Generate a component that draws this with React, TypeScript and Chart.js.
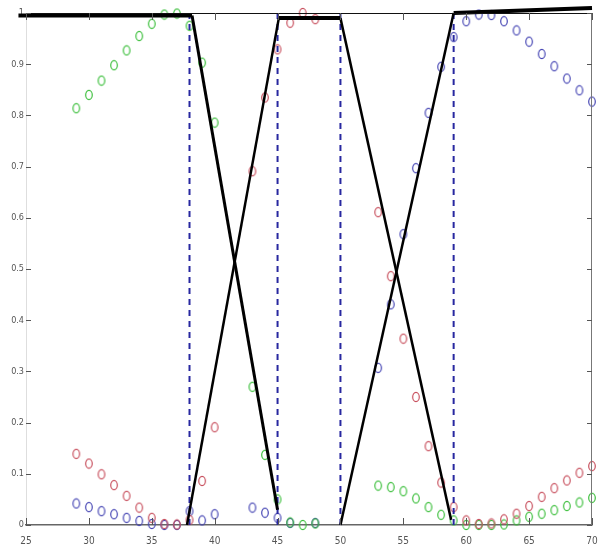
import React, { useEffect, useRef } from "react";
import { Chart, registerables } from "chart.js";

Chart.register(...registerables);

// x positions of the sampled points
const X_VALUES = [
  29, 30, 31, 32, 33, 34, 35, 36, 37, 38, 39, 40,
  43, 44, 45, 46, 47, 48,
  53, 54, 55, 56, 57, 58, 59, 60, 61, 62, 63, 64, 65, 66, 67, 68, 69, 70,
];

const RED_VALUES = [
  0.139, 0.12, 0.099, 0.078, 0.057, 0.034, 0.014, 0.002, 0.001, 0.01, 0.086, 0.191,
  0.691, 0.835, 0.929, 0.981, 1.0, 0.988,
  0.611, 0.486, 0.364, 0.25, 0.154, 0.083, 0.035, 0.009, 0.002, 0.003, 0.011, 0.022, 0.037, 0.055, 0.072, 0.087, 0.102, 0.115,
];

const GREEN_VALUES = [
  0.814, 0.84, 0.868, 0.898, 0.927, 0.955, 0.979, 0.997, 0.999, 0.975, 0.903, 0.786,
  0.27, 0.137, 0.05, 0.005, 0.0, 0.003,
  0.077, 0.074, 0.066, 0.052, 0.035, 0.02, 0.009, 0.0, 0.0, 0.0, 0.001, 0.009, 0.016, 0.022, 0.029, 0.037, 0.044, 0.053,
];

const BLUE_VALUES: (number | null)[] = [
  0.042, 0.035, 0.027, 0.021, 0.014, 0.008, 0.002, 0.0, 0.0, 0.027, 0.009, 0.021,
  0.034, 0.024, 0.014, 0.004, null, 0.004,
  0.307, 0.431, 0.568, 0.697, 0.805, 0.895, 0.953, 0.984, 0.997, 0.996, 0.984, 0.966, 0.944, 0.92, 0.896, 0.872, 0.849, 0.827,
];

// membership function segments (x, y breakpoints)
const SEG_FLAT_LEFT_X = [24.4, 38.2];
const SEG_FLAT_LEFT_Y = [0.995, 0.995];
const SEG_DOWN_1_X = [38.2, 45];
const SEG_DOWN_1_Y = [0.995, 0.03];
const SEG_UP_1_X = [37.8, 45.1];
const SEG_UP_1_Y = [0, 0.99];
const SEG_FLAT_MID_X = [45.1, 50];
const SEG_FLAT_MID_Y = [0.99, 0.99];
const SEG_DOWN_2_X = [50, 58.8];
const SEG_DOWN_2_Y = [0.99, 0.01];
const SEG_UP_2_X = [50, 59];
const SEG_UP_2_Y = [0, 1];
const SEG_FLAT_RIGHT_X = [59, 70];
const SEG_FLAT_RIGHT_Y = [1, 1.01];

// dashed boundaries
const BOUNDARIES = [38, 45, 50, 59];

const X_TICKS = [25, 30, 35, 40, 45, 50, 55, 60, 65, 70];
const Y_TICKS = [0, 0.1, 0.2, 0.3, 0.4, 0.5, 0.6, 0.7, 0.8, 0.9, 1];

const FONT_FAMILY = '"Liberation Sans Narrow", "DejaVu Sans Condensed", "Liberation Sans", sans-serif';

function ring(color: string): HTMLCanvasElement {
  const c = document.createElement("canvas");
  c.width = 10;
  c.height = 12;
  const g = c.getContext("2d")!;
  g.strokeStyle = color;
  g.lineWidth = 1.2;
  g.beginPath();
  g.ellipse(5, 6, 3.3, 4.6, 0, 0, Math.PI * 2);
  g.stroke();
  return c;
}

function pts(xs: number[], ys: (number | null)[]) {
  const out: { x: number; y: number }[] = [];
  xs.forEach((x, i) => {
    const v = ys[i];
    if (v !== null && v !== undefined) out.push({ x, y: v });
  });
  return out;
}

function seg(xs: number[], ys: number[], width: number) {
  return {
    data: xs.map((x, i) => ({ x, y: ys[i] })),
    showLine: true,
    borderColor: "#000",
    backgroundColor: "#000",
    borderWidth: width,
    pointRadius: 0,
    clip: false as any,
    order: 0,
  };
}

const framePlugin = {
  id: "frame",
  afterDraw(chart: any) {
    const { ctx, chartArea } = chart;
    const { left, right, top, bottom } = chartArea;
    const xs = chart.scales.x;
    const ys = chart.scales.y;
    ctx.save();
    ctx.lineWidth = 1;
    ctx.strokeStyle = "#111";
    ctx.beginPath();
    ctx.moveTo(left, top + 0.5);
    ctx.lineTo(right, top + 0.5);
    ctx.stroke();
    ctx.strokeStyle = "#777";
    ctx.beginPath();
    ctx.moveTo(right - 0.5, top);
    ctx.lineTo(right - 0.5, bottom);
    ctx.stroke();
    ctx.strokeStyle = "#555";
    ctx.beginPath();
    Y_TICKS.forEach((t) => {
      const py = Math.round(ys.getPixelForValue(t)) + 0.5;
      ctx.moveTo(left, py);
      ctx.lineTo(left + 5, py);
      ctx.moveTo(right, py);
      ctx.lineTo(right - 5, py);
    });
    X_TICKS.forEach((t) => {
      const px = Math.round(xs.getPixelForValue(t)) + 0.5;
      ctx.moveTo(px, bottom);
      ctx.lineTo(px, bottom - 7);
      ctx.moveTo(px, top);
      ctx.lineTo(px, top + 7);
    });
    ctx.stroke();
    ctx.restore();
  },
};

export default function App() {
  const ref = useRef<HTMLCanvasElement | null>(null);
  useEffect(() => {
    if (!ref.current) return;
    const redRing = ring("#c8505e");
    const greenRing = ring("#3cbf3c");
    const blueRing = ring("#4646b4");
    const pointSet = (data: any, style: HTMLCanvasElement) => ({
      data,
      showLine: false,
      pointStyle: style,
      pointRadius: 5,
      clip: false as any,
      order: 2,
    });
    const dashed = BOUNDARIES.map((b) => ({
      data: [
        { x: b, y: 0 },
        { x: b, y: 1 },
      ],
      showLine: true,
      borderColor: "#2828a0",
      borderWidth: 2,
      borderDash: [6, 5],
      pointRadius: 0,
      order: 1,
    }));
    const chart = new Chart(ref.current, {
      type: "scatter",
      data: {
        datasets: [
          seg(SEG_FLAT_LEFT_X, SEG_FLAT_LEFT_Y, 4),
          seg(SEG_DOWN_1_X, SEG_DOWN_1_Y, 3),
          seg(SEG_UP_1_X, SEG_UP_1_Y, 2.5),
          seg(SEG_FLAT_MID_X, SEG_FLAT_MID_Y, 4),
          seg(SEG_DOWN_2_X, SEG_DOWN_2_Y, 2.5),
          seg(SEG_UP_2_X, SEG_UP_2_Y, 2.5),
          seg(SEG_FLAT_RIGHT_X, SEG_FLAT_RIGHT_Y, 4),
          ...dashed,
          pointSet(pts(X_VALUES, RED_VALUES), redRing),
          pointSet(pts(X_VALUES, GREEN_VALUES), greenRing),
          pointSet(pts(X_VALUES, BLUE_VALUES), blueRing),
        ] as any,
      },
      options: {
        animation: false,
        responsive: false,
        layout: { padding: { top: 13, right: 11, left: 0, bottom: 0 } },
        plugins: { legend: { display: false }, tooltip: { enabled: false } },
        scales: {
          x: {
            type: "linear",
            min: 25,
            max: 70,
            afterFit: (s: any) => {
              s.height = 24;
              s.paddingLeft = 0;
              s.paddingRight = 0;
            },
            afterBuildTicks: (s: any) => {
              s.ticks = X_TICKS.map((v) => ({ value: v }));
            },
            ticks: {
              color: "#555",
              font: { family: FONT_FAMILY, size: 10 },
              padding: 10,
              callback: (v: any) => String(v),
            },
            grid: { display: true, drawOnChartArea: false, drawTicks: false },
            border: { display: true, color: "#666", width: 1.5 },
          },
          y: {
            type: "linear",
            min: 0,
            max: 1,
            afterFit: (s: any) => {
              s.width = 26;
              s.paddingTop = 0;
              s.paddingBottom = 0;
            },
            afterBuildTicks: (s: any) => {
              s.ticks = Y_TICKS.map((v) => ({ value: v }));
            },
            ticks: {
              color: "#555",
              font: { family: FONT_FAMILY, size: 9 },
              padding: 2,
              callback: (v: any) => (v === 0 ? "0" : v === 1 ? "1" : Number(v).toFixed(1)),
            },
            grid: { display: true, drawOnChartArea: false, drawTicks: false },
            border: { display: true, color: "#dedede", width: 1 },
          },
        },
      },
      plugins: [framePlugin],
    });
    return () => chart.destroy();
  }, []);
  return (
    <div style={{ position: "absolute", left: 0, top: 0, width: 603, height: 549, background: "#fff" }}>
      <canvas ref={ref} width={603} height={549} style={{ width: 603, height: 549 }} />
    </div>
  );
}
